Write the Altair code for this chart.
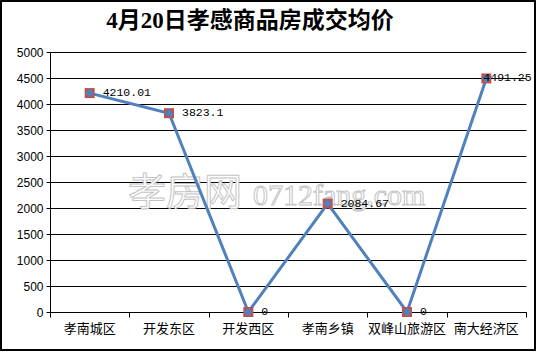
import altair as alt
import pandas as pd

categories = ["孝南城区", "开发东区", "开发西区", "孝南乡镇", "双峰山旅游区", "南大经济区"]
prices = [4210.01, 3823.1, 0, 2084.67, 0, 4491.25]
y_ticks = [0, 500, 1000, 1500, 2000, 2500, 3000, 3500, 4000, 4500, 5000]
title_text = "4月20日孝感商品房成交均价"

df = pd.DataFrame({
    "cat": categories,
    "price": prices,
    "pos": [i + 0.5 for i in range(len(categories))],
    "last": [i == len(categories) - 1 for i in range(len(categories))],
})

W, H = 476, 260
BLUE = "#4F81BD"
RED = "#C0504D"

xs = alt.Scale(domain=[0, 6], nice=False, zero=False)
ys = alt.Scale(domain=[0, 5000], nice=False)

x_enc = alt.X("pos:Q", scale=xs, axis=alt.Axis(
    values=list(range(7)), labels=False, title=None, grid=False,
    tickSize=5, tickColor="black", domainColor="black", tickWidth=1, domainWidth=1))
y_enc = alt.Y("price:Q", scale=ys, axis=alt.Axis(
    values=y_ticks, format="d", title=None, grid=True, gridColor="black", gridWidth=1,
    gridOpacity=1, tickSize=4, tickColor="black", domainColor="black",
    labelFont="Liberation Sans", labelFontSize=12, labelColor="black",
    labelPadding=3))

base = alt.Chart(df)

border = base.mark_rect(fill=None, stroke="black", strokeWidth=1.2).encode(
    x=alt.value(-49), x2=alt.value(535 - 50), y=alt.value(-51), y2=alt.value(350 - 52)
)

title = alt.Chart(pd.DataFrame({"t": [title_text]})).mark_text(
    font="Liberation Serif, Noto Sans CJK SC", fontSize=23, fontWeight="bold",
    color="black", align="center", baseline="middle"
).encode(text="t:N", x=alt.value(200), y=alt.value(-31))

wm1 = alt.Chart(pd.DataFrame({"t": ["孝房网"]})).mark_text(
    font="Noto Sans CJK SC", fontSize=38, fill="white", stroke="#c4c4c4",
    strokeWidth=1, align="left", baseline="middle"
).encode(text="t:N", x=alt.value(78), y=alt.value(142))

wm2 = alt.Chart(pd.DataFrame({"t": ["0712fang.com"]})).mark_text(
    font="Liberation Serif", fontSize=30, fill="white", stroke="#c4c4c4",
    strokeWidth=1, align="left", baseline="alphabetic"
).encode(text="t:N", x=alt.value(203), y=alt.value(153))

line = base.mark_line(color=BLUE, strokeWidth=3).encode(x=x_enc, y=y_enc)

squares = base.mark_square(size=100, color=RED, opacity=1).encode(x=x_enc, y=y_enc)
diamonds = base.mark_point(shape="diamond", size=80, filled=True, color=BLUE, opacity=1).encode(
    x=x_enc, y=y_enc)

labels = base.transform_filter("!datum.last").mark_text(
    font="Liberation Mono", fontSize=11.5, align="left", baseline="middle", dx=13, color="black"
).encode(x=x_enc, y=y_enc, text=alt.Text("price:Q", format=".2~f"))

labels_last = base.transform_filter("datum.last").mark_text(
    font="Liberation Mono", fontSize=11.5, align="left", baseline="middle", dx=-3, color="black"
).encode(x=x_enc, y=y_enc, text=alt.Text("price:Q", format=".2~f"))

cat_labels = base.mark_text(
    font="Noto Sans CJK SC", fontSize=13, align="center", baseline="middle", color="black"
).encode(x=x_enc, y=alt.value(H + 17), text="cat:N")

chart = alt.layer(
    border, title, wm1, wm2, line, squares, diamonds, labels, labels_last, cat_labels
).properties(
    width=W, height=H,
    padding={"left": 50, "top": 52, "right": 11, "bottom": 40},
    autosize=alt.AutoSizeParams(type="none"),
    background="white",
).configure_view(stroke=None)

chart.save("out.html", embed_options={"renderer": "svg", "actions": False})
